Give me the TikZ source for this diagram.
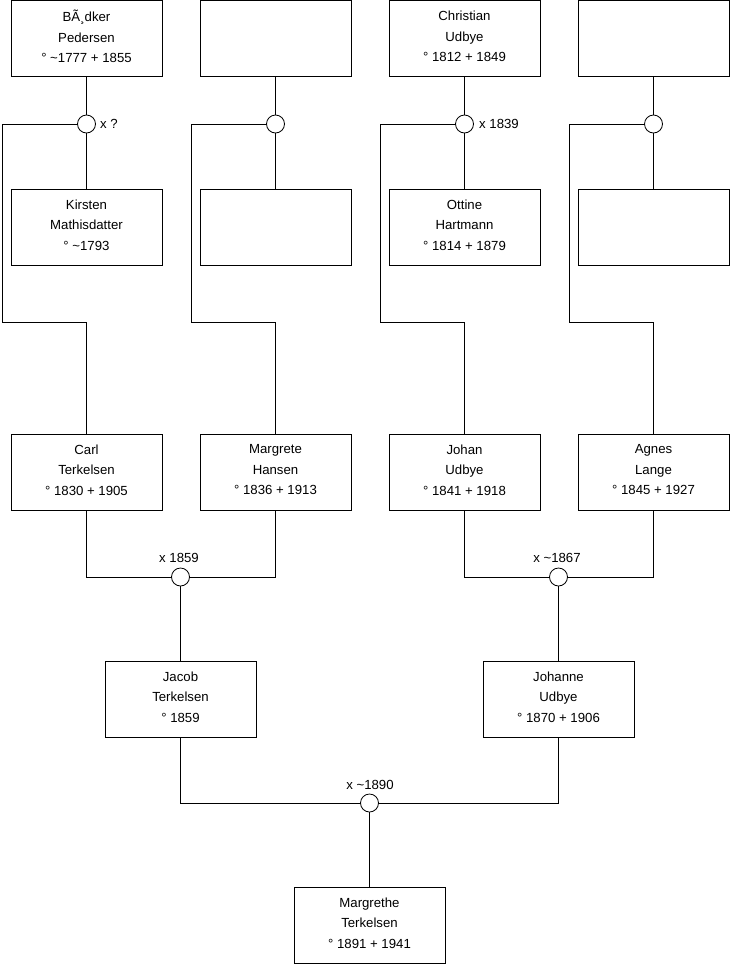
\documentclass[tikz,border=0pt]{standalone}
\usepackage{fontspec}
\setmainfont{Liberation Sans}
\begin{document}
\begin{tikzpicture}[x=1pt,y=-1pt,
  person/.style={draw=black,fill=white,rectangle,minimum width=151pt,minimum height=76pt,inner sep=0pt,align=center,font=\fontsize{13.2}{20.5}\selectfont,text depth=4.5pt,line width=0.8pt},
  union/.style={draw=black,fill=white,circle,minimum size=18pt,inner sep=0pt,line width=0.8pt},
  lbl/.style={font=\fontsize{13.2}{15}\selectfont,inner sep=0pt},
  link/.style={draw=black,line width=0.8pt}]
\useasboundingbox (0,0) rectangle (740,975);
% row 1
\node[person] (p1) at (86.5,38.5) {BÃ¸dker\\Pedersen\\° \textasciitilde1777 + 1855};
\node[person] (p2) at (275.5,38.5) {};
\node[person] (p3) at (464.5,38.5) {Christian\\Udbye\\° 1812 + 1849};
\node[person] (p4) at (653.5,38.5) {};
% unions row 1
\node[union] (u1) at (86.5,124) {};
\node[union] (u2) at (275.5,124) {};
\node[union] (u3) at (464.5,124) {};
\node[union] (u4) at (653.5,124) {};
\node[lbl,anchor=west] (l1) at (100,124) {x ?};
\node[lbl,anchor=west] (l3) at (479,124) {x 1839};
% row 2
\node[person] (s1) at (86.5,227) {Kirsten\\Mathisdatter\\° \textasciitilde1793};
\node[person] (s2) at (275.5,227) {};
\node[person] (s3) at (464.5,227) {Ottine\\Hartmann\\° 1814 + 1879};
\node[person] (s4) at (653.5,227) {};
% row 3
\node[person] (c1) at (86.5,472) {Carl\\Terkelsen\\° 1830 + 1905};
\node[person] (c2) at (275.5,472) {Margrete\\Hansen\\° 1836 + 1913};
\node[person] (c3) at (464.5,472) {Johan\\Udbye\\° 1841 + 1918};
\node[person] (c4) at (653.5,472) {Agnes\\Lange\\° 1845 + 1927};
% unions row 3
\node[union] (v1) at (180.5,577) {};
\node[union] (v2) at (558.5,577) {};
\node[lbl] (m1) at (179,558) {x 1859};
\node[lbl] (m2) at (557,558) {x \textasciitilde1867};
% row 4
\node[person] (g1) at (180.5,699) {Jacob\\Terkelsen\\° 1859};
\node[person] (g2) at (558.5,699) {Johanne\\Udbye\\° 1870 + 1906};
% union bottom
\node[union] (w) at (369.5,803) {};
\node[lbl] (m3) at (370,785) {x \textasciitilde1890};
\node[person] (b) at (369.5,925) {Margrethe\\Terkelsen\\° 1891 + 1941};
% coordinates for corners
\coordinate (k1) at (2,124);   \coordinate (k1b) at (2,322);
\coordinate (k2) at (191,124); \coordinate (k2b) at (191,322);
\coordinate (k3) at (380,124); \coordinate (k3b) at (380,322);
\coordinate (k4) at (569,124); \coordinate (k4b) at (569,322);
% connectors
\foreach \i in {1,2,3,4}{
  \draw[link] (p\i) -- (u\i);
  \draw[link] (u\i) -- (s\i);
  \draw[link] (u\i.west) -- (k\i) -- (k\i b) -| (c\i.north);
}
\draw[link] (c1.south) |- (v1.west);
\draw[link] (c2.south) |- (v1.east);
\draw[link] (c3.south) |- (v2.west);
\draw[link] (c4.south) |- (v2.east);
\draw[link] (v1) -- (g1);
\draw[link] (v2) -- (g2);
\draw[link] (g1.south) |- (w.west);
\draw[link] (g2.south) |- (w.east);
\draw[link] (w) -- (b);
\end{tikzpicture}
\end{document}
